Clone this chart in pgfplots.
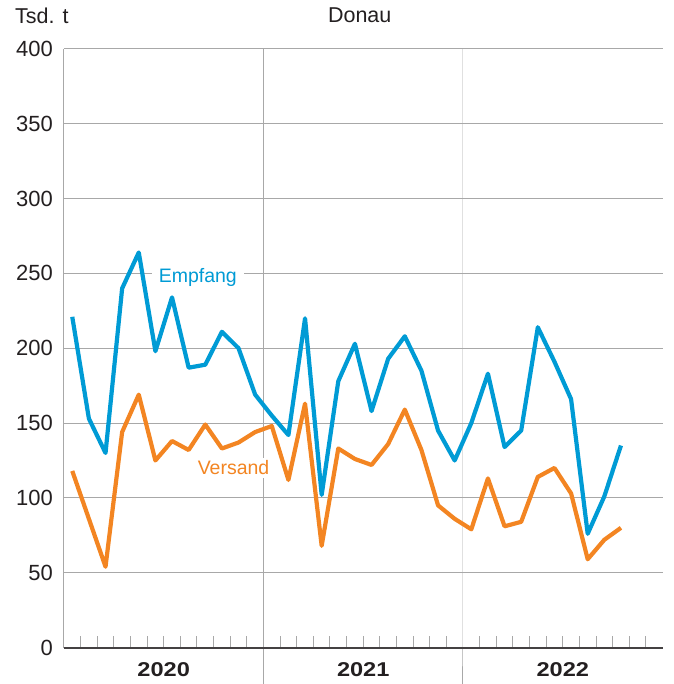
\documentclass[border=0pt]{standalone}
\usepackage{pgfplots}
\pgfplotsset{compat=1.18}
\usepackage{fontspec}
\setmainfont{Liberation Sans}
\newfontfamily\yearfont[FakeStretch=1.18]{Liberation Sans Bold}
\definecolor{empf}{RGB}{0,155,213}
\definecolor{vers}{RGB}{243,133,34}
\definecolor{gridc}{RGB}{168,168,168}
\definecolor{txt}{RGB}{35,31,32}
\pgfplotstableread{
x e
0.5 221
1.5 153
2.5 130
3.5 240
4.5 264
5.5 198
6.5 234
7.5 187
8.5 189
9.5 211
10.5 200
11.5 169
12.5 155
13.5 142
14.5 220
15.5 102
16.5 178
17.5 203
18.5 158
19.5 193
20.5 208
21.5 185
22.5 145
23.5 125
24.5 150
25.5 183
26.5 134
27.5 145
28.5 214
29.5 191
30.5 166
31.5 76
32.5 101
33.5 135
}\empfang
\pgfplotstableread{
x v
0.5 118
1.5 86
2.5 54
3.5 144
4.5 169
5.5 125
6.5 138
7.5 132
8.5 149
9.5 133
10.5 137
11.5 144
12.5 148
13.5 112
14.5 163
15.5 68
16.5 133
17.5 126
18.5 122
19.5 136
20.5 159
21.5 132
22.5 95
23.5 86
24.5 79
25.5 113
26.5 81
27.5 84
28.5 114
29.5 120
30.5 103
31.5 59
32.5 72
33.5 80
}\versand
\begin{document}
\begin{tikzpicture}
\path (-64pt,-36pt) rectangle (610pt,648pt);
\begin{axis}[
  at={(0pt,0pt)}, anchor=south west,
  scale only axis, width=599pt, height=599pt,
  xmin=0, xmax=36, ymin=0, ymax=400,
  clip=false,
  axis line style={draw=none},
  ytick={0,50,...,400},
  ymajorgrids=true,
  grid style={gridc, line width=1pt},
  ytick style={draw=none},
  ytick pos=left,
  yticklabel style={font=\fontsize{22}{22}\selectfont, text=txt, anchor=east, inner sep=0pt, xshift=-11pt},
  /pgf/number format/assume math mode=true,
  xtick={1,2,3,4,5,6,7,8,9,10,11,13,14,15,16,17,18,19,20,21,22,23,25,26,27,28,29,30,31,32,33,34,35},
  xticklabels={},
  xtick pos=left,
  xtick align=inside,
  major tick length=12pt,
  xtick style={gridc, line width=1pt},
]
\draw[gridc, line width=1pt] (axis cs:0,0) -- (axis cs:0,400);
\draw[gridc, line width=1pt] (axis cs:12,400) -- (axis cs:12,0) -- ++(0,-36pt);
\draw[gridc, line width=1pt] (axis cs:24,400) -- (axis cs:24,0) -- ++(0,-36pt);
\node[anchor=base, fill=white, text=empf, inner xsep=7pt, inner ysep=1pt, font=\fontsize{19.5}{19.5}\selectfont] at (axis cs:8.05,244) {Empfang};
\node[anchor=base, fill=white, text=vers, inner xsep=4pt, inner ysep=3pt, font=\fontsize{19.5}{19.5}\selectfont] at (axis cs:10.2,115.5) {Versand};
\addplot[empf, line width=4.2pt, line join=round] table[x=x, y=e] {\empfang};
\addplot[vers, line width=4.2pt, line join=round] table[x=x, y=v] {\versand};
\draw[txt!85, line width=2pt] (axis cs:0,0) -- (axis cs:36,0);
\node[font=\yearfont\fontsize{20}{20}\selectfont, text=txt] at ([yshift=-22pt]axis cs:6,0) {2020};
\node[font=\yearfont\fontsize{20}{20}\selectfont, text=txt] at ([yshift=-22pt]axis cs:18,0) {2021};
\node[font=\yearfont\fontsize{20}{20}\selectfont, text=txt] at ([yshift=-22pt]axis cs:30,0) {2022};
\end{axis}
\node[anchor=base west, inner sep=0pt, text=txt, font=\fontsize{21.5}{21.5}\selectfont] at (-49pt,624.7pt) {Tsd. t};
\node[anchor=base, inner sep=0pt, text=txt, font=\fontsize{21.5}{21.5}\selectfont] at (296pt,625pt) {Donau};
\end{tikzpicture}
\end{document}
